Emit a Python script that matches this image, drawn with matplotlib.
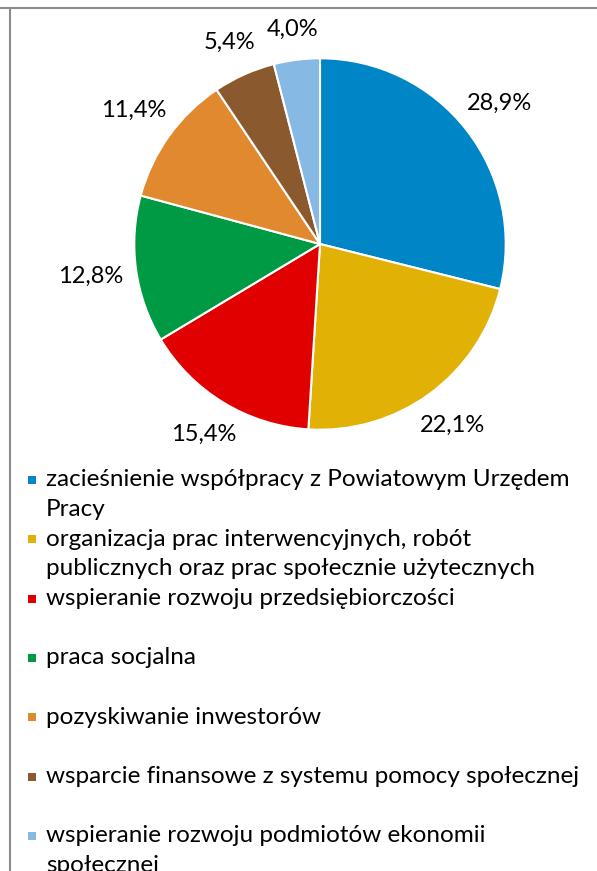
import numpy as np
import matplotlib.pyplot as plt
from matplotlib.patches import Rectangle
from matplotlib.lines import Line2D

plt.rcParams['font.family'] = ['Lato', 'DejaVu Sans']

# dane z wykresu (udzialy w %)
shares = [28.9, 22.1, 15.4, 12.8, 11.4, 5.4, 4.0]
labels = [
    ["zacieśnienie współpracy z Powiatowym Urzędem", "Pracy"],
    ["organizacja prac interwencyjnych, robót", "publicznych oraz prac społecznie użytecznych"],
    ["wspieranie rozwoju przedsiębiorczości"],
    ["praca socjalna"],
    ["pozyskiwanie inwestorów"],
    ["wsparcie finansowe z systemu pomocy społecznej"],
    ["wspieranie rozwoju podmiotów ekonomii", "społecznej"],
]
colors = ['#0086c6', '#e1b106', '#e10000', '#009a44', '#e0892f', '#8a5a2e', '#86b9e4']

W, H = 597, 871
fig = plt.figure(figsize=(W / 100, H / 100), dpi=100)

# pie: srodek (320, 244) px, promien ~186 px
cx, cy, half = 320, 244, 260
ax = fig.add_axes([(cx - half) / W, (H - cy - half) / H, 2 * half / W, 2 * half / H])

wedges, _ = ax.pie(shares, colors=colors, startangle=90, counterclock=False, radius=1.0,
                   wedgeprops=dict(edgecolor='white', linewidth=1.5))
ax.set_xlim(-1.4, 1.4)
ax.set_ylim(-1.4, 1.4)
ax.set_axis_off()

# etykiety procentowe na zewnatrz (odleglosc zalezy od szerokosci tekstu)
for w, v in zip(wedges, shares):
    ang = np.deg2rad((w.theta1 + w.theta2) / 2)
    d = 1.15 + 0.1 * abs(np.cos(ang))
    ax.text(d * np.cos(ang), d * np.sin(ang), f"{v:.1f}%".replace('.', ','),
            ha='center', va='center', fontsize=17, color='black')

# legenda
slot = 59.3
for i, (lab, c) in enumerate(zip(labels, colors)):
    y0 = 480 + i * slot
    fig.patches.append(Rectangle((28 / W, 1 - (y0 + 4) / H), 8 / W, 8 / H,
                                 transform=fig.transFigure, facecolor=c, edgecolor='none'))
    for j, line in enumerate(lab):
        fig.text(46 / W, 1 - (y0 + j * 29.5) / H, line, ha='left', va='center',
                 fontsize=17.5, color='black')

# ramka
fig.lines.append(Line2D([0, 1], [1 - 8.5 / H, 1 - 8.5 / H], transform=fig.transFigure,
                        color='#8c8c8c', linewidth=1.5))
fig.lines.append(Line2D([10 / W, 10 / W], [0, 1 - 8.5 / H], transform=fig.transFigure,
                        color='#8c8c8c', linewidth=1.5))

fig.savefig('out.png', dpi=100)
